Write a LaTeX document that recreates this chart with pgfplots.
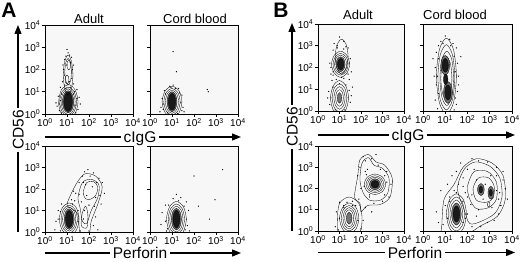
\documentclass[border=0pt]{standalone}
\usepackage{pgfplots}
\pgfplotsset{compat=1.18}
\usepackage{fontspec}
\setmainfont{Liberation Sans}
\usetikzlibrary{arrows.meta}
\newcommand{\sx}[1]{10\textsuperscript{#1}}
\pgfplotsset{
  fc/.style={scale only axis, width=88pt, height=89pt, anchor=south west,
    xmin=0, xmax=4, ymin=0, ymax=4,
    xtick={0,1,2,3,4}, ytick={0,1,2,3,4},
    xticklabels={\sx{0},\sx{1},\sx{2},\sx{3},\sx{4}},
    yticklabels={\sx{0},\sx{1},\sx{2},\sx{3},\sx{4}},
    tick align=outside, tick pos=left, major tick length=3pt,
    axis line style={line width=0.9pt},
    every tick/.style={black, line width=0.7pt},
    axis background/.style={fill=black!3},
    ticklabel style={font=\fontsize{10}{11}\selectfont},
    xticklabel style={inner sep=1pt},
    yticklabel style={inner sep=1.5pt}},
  noy/.style={yticklabels={}},
  ct/.style={black, line width=0.32pt, smooth cycle, mark=none},
  cf1/.style={ct, fill=black!55},
  cf2/.style={ct, fill=black!90},
  dt/.style={only marks, mark=*, mark size=0.35pt, black},
}
\begin{document}
\begin{tikzpicture}[x=1pt,y=1pt]
\path[use as bounding box] (0,0) rectangle (520,262);

% ================= A top-left: Adult cIgG
\begin{axis}[fc, at={(45pt,148pt)}]
\addplot[ct] coordinates {(1.50,0.55)(1.37,1.08)(1.08,1.32)(0.74,1.08)(0.62,0.50)(0.74,0.03)(1.05,-0.20)(1.37,0.03)};
\addplot[ct] coordinates {(1.43,0.55)(1.32,1.01)(1.05,1.20)(0.78,1.01)(0.67,0.55)(0.78,0.10)(1.05,-0.10)(1.32,0.10)};
\addplot[ct] coordinates {(1.37,0.55)(1.27,0.96)(1.05,1.13)(0.83,0.96)(0.73,0.55)(0.83,0.14)(1.05,-0.03)(1.27,0.14)};
\addplot[cf1] coordinates {(1.31,0.55)(1.23,0.90)(1.05,1.05)(0.87,0.90)(0.79,0.55)(0.87,0.20)(1.05,0.05)(1.23,0.20)};
\addplot[cf2] coordinates {(1.25,0.55)(1.19,0.86)(1.05,0.99)(0.91,0.86)(0.85,0.55)(0.91,0.24)(1.05,0.11)(1.19,0.24)};
\addplot[ct] coordinates {(1.27,1.75)(1.20,2.38)(1.05,2.65)(0.90,2.38)(0.83,1.75)(0.90,1.12)(1.05,0.85)(1.20,1.12)};
\addplot[ct] coordinates {(1.20,1.90)(1.16,2.32)(1.05,2.50)(0.95,2.32)(0.90,1.90)(0.95,1.48)(1.05,1.30)(1.16,1.48)};
\addplot[ct] coordinates {(1.17,2.20)(1.14,2.35)(1.08,2.42)(1.02,2.35)(0.99,2.20)(1.02,2.05)(1.08,1.98)(1.14,2.05)};
\addplot[ct] coordinates {(1.09,1.55)(1.06,1.69)(1.00,1.75)(0.94,1.69)(0.91,1.55)(0.94,1.41)(1.00,1.35)(1.06,1.41)};
\addplot[dt] coordinates {(0.55,0.35)(0.60,0.80)(0.65,0.15)(1.50,0.20)(1.55,0.75)(1.45,1.10)(0.70,1.20)(0.80,1.45)(1.30,1.35)(0.85,2.00)(1.25,2.00)(0.90,2.45)(1.20,2.55)(1.05,2.75)(0.95,2.60)(1.15,2.30)(0.88,1.75)(1.22,1.60)(0.50,0.50)(1.60,0.45)(1.40,0.05)(0.75,0.05)(0.95,1.15)(1.15,1.20)(1.00,2.90)(1.30,0.90)(0.70,0.60)(1.40,0.40)(0.65,0.45)(1.45,0.70)(1.35,1.00)(0.75,0.90)(0.90,1.30)(1.10,1.45)(1.00,2.20)(1.12,2.65)(0.82,2.20)(1.30,2.20)};
\end{axis}

% ================= A top-right: Cord blood cIgG
\begin{axis}[fc, noy, at={(150pt,148pt)}]
\addplot[ct] coordinates {(1.45,0.55)(1.32,1.04)(1.00,1.25)(0.69,1.04)(0.55,0.55)(0.69,0.06)(1.00,-0.15)(1.32,0.06)};
\addplot[ct] coordinates {(1.37,0.55)(1.26,0.97)(1.00,1.15)(0.74,0.97)(0.63,0.55)(0.74,0.13)(1.00,-0.05)(1.26,0.13)};
\addplot[ct] coordinates {(1.30,0.55)(1.21,0.91)(1.00,1.07)(0.79,0.91)(0.70,0.55)(0.79,0.19)(1.00,0.03)(1.21,0.19)};
\addplot[cf1] coordinates {(1.23,0.55)(1.16,0.87)(1.00,1.00)(0.84,0.87)(0.77,0.55)(0.84,0.24)(1.00,0.10)(1.16,0.24)};
\addplot[cf2] coordinates {(1.17,0.55)(1.12,0.82)(1.00,0.93)(0.88,0.82)(0.83,0.55)(0.88,0.28)(1.00,0.17)(1.12,0.28)};
\addplot[dt] coordinates {(0.50,0.30)(0.55,0.70)(1.50,0.30)(1.45,0.85)(0.65,1.05)(1.30,1.15)(1.05,1.30)(0.90,1.25)(1.20,1.90)(1.05,2.80)(2.60,1.10)(2.65,1.00)(0.45,0.10)(1.55,0.10)(0.80,0.05)(1.25,0.02)(0.60,0.45)(1.40,0.50)(1.35,0.95)(0.70,0.90)(0.95,1.20)(1.15,1.15)(0.60,0.20)(1.45,0.15)};
\end{axis}

% ================= A bottom-left: Adult Perforin
\begin{axis}[fc, height=86pt, at={(45pt,30pt)}]
\addplot[ct] coordinates {(1.0,1.3)(1.4,2.2)(1.8,2.7)(2.3,2.6)(2.6,2.1)(2.4,1.3)(2.1,0.5)(2.0,-0.1)(1.6,-0.1)(1.5,0.8)(1.2,1.1)};
\addplot[ct] coordinates {(1.5,1.6)(1.7,2.3)(2.1,2.45)(2.45,2.2)(2.4,1.6)(2.1,1.0)(1.9,0.4)(1.7,0.5)(1.6,1.1)};
\addplot[ct] coordinates {(1.75,1.9)(1.9,2.3)(2.2,2.35)(2.4,2.1)(2.3,1.7)(2.0,1.5)(1.8,1.6)};
\addplot[ct] coordinates {(1.65,0.3)(1.7,0.9)(1.85,1.2)(1.95,0.8)(1.9,0.2)};
\addplot[ct] coordinates {(1.55,0.60)(1.42,1.13)(1.10,1.35)(0.79,1.13)(0.65,0.60)(0.79,0.08)(1.10,-0.15)(1.42,0.08)};
\addplot[ct] coordinates {(1.47,0.60)(1.36,1.06)(1.10,1.25)(0.84,1.06)(0.73,0.60)(0.84,0.15)(1.10,-0.05)(1.36,0.15)};
\addplot[ct] coordinates {(1.40,0.60)(1.31,0.99)(1.10,1.16)(0.89,0.99)(0.80,0.60)(0.89,0.21)(1.10,0.04)(1.31,0.21)};
\addplot[cf1] coordinates {(1.33,0.60)(1.26,0.94)(1.10,1.08)(0.94,0.94)(0.87,0.60)(0.94,0.26)(1.10,0.12)(1.26,0.26)};
\addplot[cf2] coordinates {(1.27,0.60)(1.22,0.88)(1.10,1.00)(0.98,0.88)(0.93,0.60)(0.98,0.32)(1.10,0.20)(1.22,0.32)};
\addplot[dt] coordinates {(0.50,0.50)(0.45,0.10)(0.60,1.00)(0.75,1.30)(1.35,1.45)(1.40,1.80)(1.55,2.30)(1.70,2.60)(1.80,2.80)(1.95,2.90)(2.20,2.75)(2.45,2.50)(2.60,2.30)(2.70,1.80)(2.55,1.30)(2.30,0.70)(2.20,0.30)(2.40,0.10)(1.65,1.40)(1.90,1.70)(2.00,1.25)(1.75,0.60)(1.30,1.90)(1.60,0.05)(2.00,0.05)(0.70,0.05)(1.20,1.50)(2.15,2.10)(1.85,2.20)(2.30,1.60)(0.60,0.60)(1.50,0.50)(1.50,1.00)(0.70,0.95)(1.25,1.30)(1.55,1.75)(1.75,2.30)(2.05,2.60)(2.35,2.30)(2.50,1.70)(2.25,1.20)(1.80,1.00)};
\end{axis}

% ================= A bottom-right: Cord blood Perforin
\begin{axis}[fc, noy, height=86pt, at={(150pt,30pt)}]
\addplot[ct] coordinates {(1.65,0.60)(1.52,1.17)(1.20,1.42)(0.89,1.17)(0.75,0.60)(0.89,0.03)(1.20,-0.22)(1.52,0.03)};
\addplot[ct] coordinates {(1.57,0.60)(1.46,1.09)(1.20,1.30)(0.94,1.09)(0.83,0.60)(0.94,0.11)(1.20,-0.10)(1.46,0.11)};
\addplot[ct] coordinates {(1.50,0.60)(1.41,1.02)(1.20,1.20)(0.99,1.02)(0.90,0.60)(0.99,0.18)(1.20,0.00)(1.41,0.18)};
\addplot[cf1] coordinates {(1.43,0.60)(1.36,0.95)(1.20,1.10)(1.04,0.95)(0.97,0.60)(1.04,0.25)(1.20,0.10)(1.36,0.25)};
\addplot[cf2] coordinates {(1.36,0.60)(1.31,0.89)(1.20,1.02)(1.09,0.89)(1.04,0.60)(1.09,0.31)(1.20,0.18)(1.31,0.31)};
\addplot[dt] coordinates {(0.50,0.35)(0.55,0.90)(0.70,1.25)(1.70,0.30)(1.75,1.00)(1.65,1.40)(1.05,1.55)(1.40,1.60)(2.00,2.60)(2.20,1.20)(2.95,1.50)(3.30,2.90)(2.70,0.60)(1.80,0.05)(0.75,0.05)(1.20,1.75)(0.70,0.50)(1.65,0.60)(1.55,1.20)(0.85,1.25)(1.30,1.45)(0.80,0.15)(1.60,0.10)};
\end{axis}

% ================= B top-left: Adult cIgG
\begin{axis}[fc, width=86pt, height=87pt, at={(318pt,151pt)}]
\addplot[ct] coordinates {(1.40,2.50)(1.31,3.06)(1.10,3.30)(0.89,3.06)(0.80,2.50)(0.89,1.94)(1.10,1.70)(1.31,1.94)};
\addplot[ct] coordinates {(1.47,2.15)(1.34,2.57)(1.05,2.75)(0.76,2.57)(0.63,2.15)(0.76,1.73)(1.05,1.55)(1.34,1.73)};
\addplot[ct] coordinates {(1.40,2.15)(1.30,2.50)(1.05,2.65)(0.81,2.50)(0.70,2.15)(0.81,1.80)(1.05,1.65)(1.30,1.80)};
\addplot[ct] coordinates {(1.33,2.15)(1.25,2.44)(1.05,2.57)(0.85,2.44)(0.77,2.15)(0.85,1.86)(1.05,1.73)(1.25,1.86)};
\addplot[cf1] coordinates {(1.26,2.15)(1.20,2.39)(1.05,2.49)(0.90,2.39)(0.84,2.15)(0.90,1.91)(1.05,1.81)(1.20,1.91)};
\addplot[cf2] coordinates {(1.20,2.15)(1.16,2.34)(1.05,2.42)(0.95,2.34)(0.90,2.15)(0.95,1.96)(1.05,1.88)(1.16,1.96)};
\addplot[ct] coordinates {(1.42,0.60)(1.29,1.16)(1.00,1.40)(0.71,1.16)(0.58,0.60)(0.71,0.04)(1.00,-0.20)(1.29,0.04)};
\addplot[ct] coordinates {(1.34,0.60)(1.24,1.06)(1.00,1.25)(0.76,1.06)(0.66,0.60)(0.76,0.15)(1.00,-0.05)(1.24,0.15)};
\addplot[ct] coordinates {(1.26,0.60)(1.18,0.96)(1.00,1.12)(0.82,0.96)(0.74,0.60)(0.82,0.24)(1.00,0.08)(1.18,0.24)};
\addplot[ct] coordinates {(1.18,0.60)(1.13,0.87)(1.00,0.98)(0.87,0.87)(0.82,0.60)(0.87,0.33)(1.00,0.22)(1.13,0.33)};
\addplot[cf1] coordinates {(1.10,0.60)(1.07,0.77)(1.00,0.84)(0.93,0.77)(0.90,0.60)(0.93,0.43)(1.00,0.36)(1.07,0.43)};
\addplot[dt] coordinates {(0.55,2.20)(0.60,1.70)(0.70,2.80)(0.75,3.10)(1.00,3.40)(1.20,3.20)(1.40,2.90)(1.50,2.40)(1.55,1.80)(1.45,1.45)(0.65,1.40)(0.85,1.45)(1.20,1.50)(1.00,1.25)(0.50,0.90)(0.55,0.30)(1.50,0.40)(1.45,0.95)(0.80,0.05)(1.25,0.05)(1.60,1.10)(0.90,3.00)(1.30,2.95)(0.45,0.60)(1.55,0.70)(1.10,1.55)(0.70,1.80)(0.60,2.00)(1.45,2.20)(1.40,1.70)(0.70,1.65)(0.90,2.90)(1.20,2.85)(0.60,0.60)(1.40,0.60)(1.30,1.20)(0.70,1.10)};
\end{axis}

% ================= B top-right: Cord blood cIgG
\begin{axis}[fc, noy, width=89pt, height=87pt, at={(423pt,151pt)}]
\addplot[ct] coordinates {(1.50,1.60)(1.37,2.83)(1.05,3.35)(0.74,2.83)(0.60,1.60)(0.74,0.38)(1.05,-0.15)(1.37,0.38)};
\addplot[ct] coordinates {(1.43,1.55)(1.32,2.60)(1.05,3.05)(0.78,2.60)(0.67,1.55)(0.78,0.50)(1.05,0.05)(1.32,0.50)};
\addplot[ct] coordinates {(1.38,1.50)(1.29,2.38)(1.07,2.75)(0.85,2.38)(0.76,1.50)(0.85,0.63)(1.07,0.25)(1.29,0.63)};
\addplot[ct] coordinates {(1.30,1.50)(1.23,2.20)(1.05,2.50)(0.88,2.20)(0.80,1.50)(0.88,0.80)(1.05,0.50)(1.23,0.80)};
\addplot[cf1] coordinates {(1.20,2.10)(1.14,2.42)(1.00,2.55)(0.86,2.42)(0.80,2.10)(0.86,1.79)(1.00,1.65)(1.14,1.79)};
\addplot[cf2] coordinates {(1.14,2.10)(1.10,2.32)(1.00,2.42)(0.90,2.32)(0.86,2.10)(0.90,1.88)(1.00,1.78)(1.10,1.88)};
\addplot[cf1] coordinates {(1.32,0.85)(1.26,1.20)(1.12,1.35)(0.98,1.20)(0.92,0.85)(0.98,0.50)(1.12,0.35)(1.26,0.50)};
\addplot[cf2] coordinates {(1.26,0.85)(1.22,1.10)(1.12,1.20)(1.02,1.10)(0.98,0.85)(1.02,0.61)(1.12,0.50)(1.22,0.61)};
\addplot[cf2] coordinates {(1.12,1.45)(1.09,1.63)(1.02,1.70)(0.95,1.63)(0.92,1.45)(0.95,1.28)(1.02,1.20)(1.09,1.28)};
\addplot[dt] coordinates {(0.55,0.50)(0.60,1.20)(0.55,2.00)(0.60,2.70)(0.80,3.20)(1.00,3.45)(1.20,3.30)(1.50,2.90)(1.55,2.20)(1.60,1.60)(1.55,0.90)(1.50,0.30)(0.70,3.00)(1.35,3.10)(0.50,1.60)(1.60,1.20)(0.65,0.10)(1.40,0.05)(1.70,2.50)(0.45,2.40)(0.65,1.60)(1.45,1.80)(0.70,2.40)(1.40,2.50)(0.70,0.80)(1.45,0.60)(0.90,3.10)(1.25,3.00)};
\end{axis}

% ================= B bottom-left: Adult Perforin
\begin{axis}[fc, width=86pt, height=85pt, at={(318pt,31pt)}]
\addplot[ct] coordinates {(1.70,1.60)(1.85,2.60)(1.95,3.35)(2.35,3.60)(2.70,3.25)(3.10,3.10)(3.45,2.50)(3.35,1.60)(2.90,1.25)(2.30,1.20)(2.00,0.90)(1.95,1.30)};
\addplot[ct] coordinates {(1.95,2.40)(2.05,3.20)(2.35,3.45)(2.60,3.10)(3.00,2.95)(3.30,2.50)(3.25,1.80)(2.90,1.45)(2.40,1.45)(2.10,1.80)};
\addplot[ct] coordinates {(3.15,2.20)(3.00,2.54)(2.65,2.68)(2.30,2.54)(2.15,2.20)(2.30,1.86)(2.65,1.72)(3.00,1.86)};
\addplot[ct] coordinates {(3.07,2.20)(2.94,2.48)(2.65,2.60)(2.36,2.48)(2.23,2.20)(2.36,1.92)(2.65,1.80)(2.94,1.92)};
\addplot[ct] coordinates {(2.99,2.20)(2.89,2.43)(2.65,2.53)(2.41,2.43)(2.31,2.20)(2.41,1.97)(2.65,1.87)(2.89,1.97)};
\addplot[cf1] coordinates {(2.91,2.20)(2.83,2.38)(2.65,2.46)(2.47,2.38)(2.39,2.20)(2.47,2.02)(2.65,1.94)(2.83,2.02)};
\addplot[cf2] coordinates {(2.83,2.20)(2.78,2.33)(2.65,2.38)(2.52,2.33)(2.47,2.20)(2.52,2.07)(2.65,2.02)(2.78,2.07)};
\addplot[ct] coordinates {(0.90,0.50)(1.00,1.30)(1.45,1.60)(1.90,1.30)(2.05,0.60)(1.90,-0.10)(1.00,-0.10)};
\addplot[ct] coordinates {(1.90,0.60)(1.77,1.10)(1.45,1.32)(1.14,1.10)(1.00,0.60)(1.14,0.10)(1.45,-0.12)(1.77,0.10)};
\addplot[ct] coordinates {(1.82,0.60)(1.71,1.02)(1.45,1.20)(1.19,1.02)(1.08,0.60)(1.19,0.18)(1.45,0.00)(1.71,0.18)};
\addplot[ct] coordinates {(1.74,0.60)(1.65,0.95)(1.45,1.10)(1.25,0.95)(1.16,0.60)(1.25,0.25)(1.45,0.10)(1.65,0.25)};
\addplot[ct] coordinates {(1.66,0.60)(1.60,0.88)(1.45,1.00)(1.30,0.88)(1.24,0.60)(1.30,0.32)(1.45,0.20)(1.60,0.32)};
\addplot[cf1] coordinates {(1.58,0.60)(1.54,0.80)(1.45,0.88)(1.36,0.80)(1.32,0.60)(1.36,0.40)(1.45,0.32)(1.54,0.40)};
\addplot[dt] coordinates {(0.80,0.20)(0.85,0.90)(1.00,1.35)(1.60,1.40)(1.90,1.50)(2.00,2.00)(1.85,2.60)(1.95,3.00)(2.20,3.30)(2.50,3.40)(2.80,3.10)(3.20,2.80)(3.40,2.20)(3.30,1.60)(3.00,1.40)(2.60,1.30)(2.20,1.10)(2.10,0.50)(2.00,0.10)(1.20,1.20)(1.75,1.20)(2.30,2.90)(2.40,1.60)(3.10,2.60)(2.25,2.65)(1.35,1.35)(0.95,0.05)(2.50,0.90)(2.70,3.60)(2.10,3.50)(2.20,2.80)(2.90,2.90)(3.20,2.30)(3.10,1.70)(2.40,1.70)(2.15,2.10)(1.00,0.60)(1.85,0.50)(1.60,1.20)(1.20,1.10)};
\end{axis}

% ================= B bottom-right: Cord blood Perforin
\begin{axis}[fc, noy, width=89pt, height=85pt, at={(423pt,31pt)}]
\addplot[ct] coordinates {(0.85,0.30)(0.95,1.50)(1.40,2.20)(1.80,3.00)(2.40,3.40)(3.10,3.20)(3.60,2.60)(3.70,1.50)(3.35,0.70)(2.60,0.25)(2.00,-0.10)(0.90,-0.10)};
\addplot[ct] coordinates {(1.55,2.00)(1.85,2.90)(2.35,3.25)(3.00,3.05)(3.45,2.50)(3.55,1.60)(3.25,0.85)(2.60,0.45)(2.10,0.35)(1.85,1.00)};
\addplot[ct] coordinates {(2.00,2.10)(2.30,2.80)(2.90,2.80)(3.30,2.30)(3.30,1.50)(2.95,1.10)(2.40,1.05)(2.10,1.50)};
\addplot[ct] coordinates {(2.25,2.00)(2.50,2.50)(2.95,2.50)(3.20,2.10)(3.15,1.55)(2.85,1.35)(2.40,1.45)};
\addplot[cf1] coordinates {(2.75,1.95)(2.71,2.15)(2.60,2.23)(2.50,2.15)(2.45,1.95)(2.50,1.75)(2.60,1.67)(2.71,1.75)};
\addplot[cf2] coordinates {(2.68,1.95)(2.66,2.06)(2.60,2.11)(2.54,2.06)(2.52,1.95)(2.54,1.84)(2.60,1.79)(2.66,1.84)};
\addplot[cf1] coordinates {(3.18,1.80)(3.14,2.01)(3.05,2.10)(2.96,2.01)(2.92,1.80)(2.96,1.59)(3.05,1.50)(3.14,1.59)};
\addplot[cf2] coordinates {(3.12,1.80)(3.10,1.91)(3.05,1.96)(3.00,1.91)(2.98,1.80)(3.00,1.69)(3.05,1.64)(3.10,1.69)};
\addplot[ct] coordinates {(3.01,1.25)(2.99,1.33)(2.95,1.37)(2.91,1.33)(2.89,1.25)(2.91,1.17)(2.95,1.13)(2.99,1.17)};
\addplot[ct] coordinates {(1.95,0.80)(1.82,1.47)(1.50,1.75)(1.19,1.47)(1.05,0.80)(1.19,0.14)(1.50,-0.15)(1.82,0.14)};
\addplot[ct] coordinates {(1.87,0.80)(1.76,1.36)(1.50,1.60)(1.24,1.36)(1.13,0.80)(1.24,0.24)(1.50,0.00)(1.76,0.24)};
\addplot[ct] coordinates {(1.79,0.80)(1.69,1.26)(1.50,1.46)(1.30,1.26)(1.21,0.80)(1.30,0.34)(1.50,0.14)(1.69,0.34)};
\addplot[cf1] coordinates {(1.72,0.80)(1.65,1.16)(1.50,1.32)(1.35,1.16)(1.28,0.80)(1.35,0.44)(1.50,0.28)(1.65,0.44)};
\addplot[cf2] coordinates {(1.65,0.80)(1.61,1.07)(1.50,1.18)(1.40,1.07)(1.35,0.80)(1.40,0.53)(1.50,0.42)(1.61,0.53)};
\addplot[dt] coordinates {(1.30,2.60)(1.10,2.20)(1.70,3.20)(2.20,3.40)(3.60,2.80)(3.70,2.00)(3.40,0.80)(2.90,0.40)(2.20,0.20)(0.80,1.90)(0.60,0.90)(1.90,1.80)(3.30,3.00)(2.00,0.80)(1.80,2.50)(3.50,1.20)(2.60,0.20)(1.20,1.60)(0.90,0.30)(1.00,1.20)(2.50,3.30)(2.90,3.25)(3.60,2.40)(3.80,1.50)(3.20,0.50)(2.40,0.70)(1.60,2.20)(2.20,1.70)(2.70,1.50)(3.30,1.90)(2.40,2.40)(2.80,2.20)(1.40,1.90)(0.70,0.40)(2.00,2.90)(1.50,2.80)(3.05,2.60)(3.40,1.50)(2.15,1.25)(1.80,0.40)(1.10,0.60)(1.90,0.60)(1.80,1.40)(1.20,1.40)(1.50,1.80)(2.30,2.90)(3.30,2.60)(3.45,1.80)(3.10,1.10)(2.50,1.00)(2.00,1.60)(1.80,2.10)};
\end{axis}

% ================= annotations
\tikzset{lab/.style={font=\fontsize{15.5}{16}\selectfont, fill=white, inner xsep=2.5pt, inner ysep=0pt, text height=11.1pt, text depth=0pt},
  arr/.style={line width=1.3pt, -{Triangle[length=9pt,width=7pt]}}}
\node[font=\bfseries\fontsize{21}{21}\selectfont] at (9,252) {A};
\node[font=\bfseries\fontsize{21}{21}\selectfont] at (281,252) {B};
\node[font=\fontsize{13}{13}\selectfont] at (89,243.5) {Adult};
\node[font=\fontsize{13}{13}\selectfont] at (195,243.5) {Cord blood};
\node[font=\fontsize{13}{13}\selectfont] at (358,247) {Adult};
\node[font=\fontsize{13}{13}\selectfont] at (455,247) {Cord blood};
% A arrows
\draw[arr] (18,30) -- (18,237);
\node[lab, rotate=90] at (18,132) {CD56};
\draw[arr] (45,125) -- (241,125);
\node[lab] at (140,125) {cIgG};
\draw[arr] (45,9) -- (241,9);
\node[lab] at (140,9) {Perforin};
% B arrows
\draw[arr] (292,31) -- (292,239);
\node[lab, rotate=90] at (292,135) {CD56};
\draw[arr] (318,127) -- (515,127);
\node[lab] at (408,127) {cIgG};
\draw[arr] (318,9.5) -- (515,9.5);
\node[lab] at (415,9.5) {Perforin};
\end{tikzpicture}
\end{document}
